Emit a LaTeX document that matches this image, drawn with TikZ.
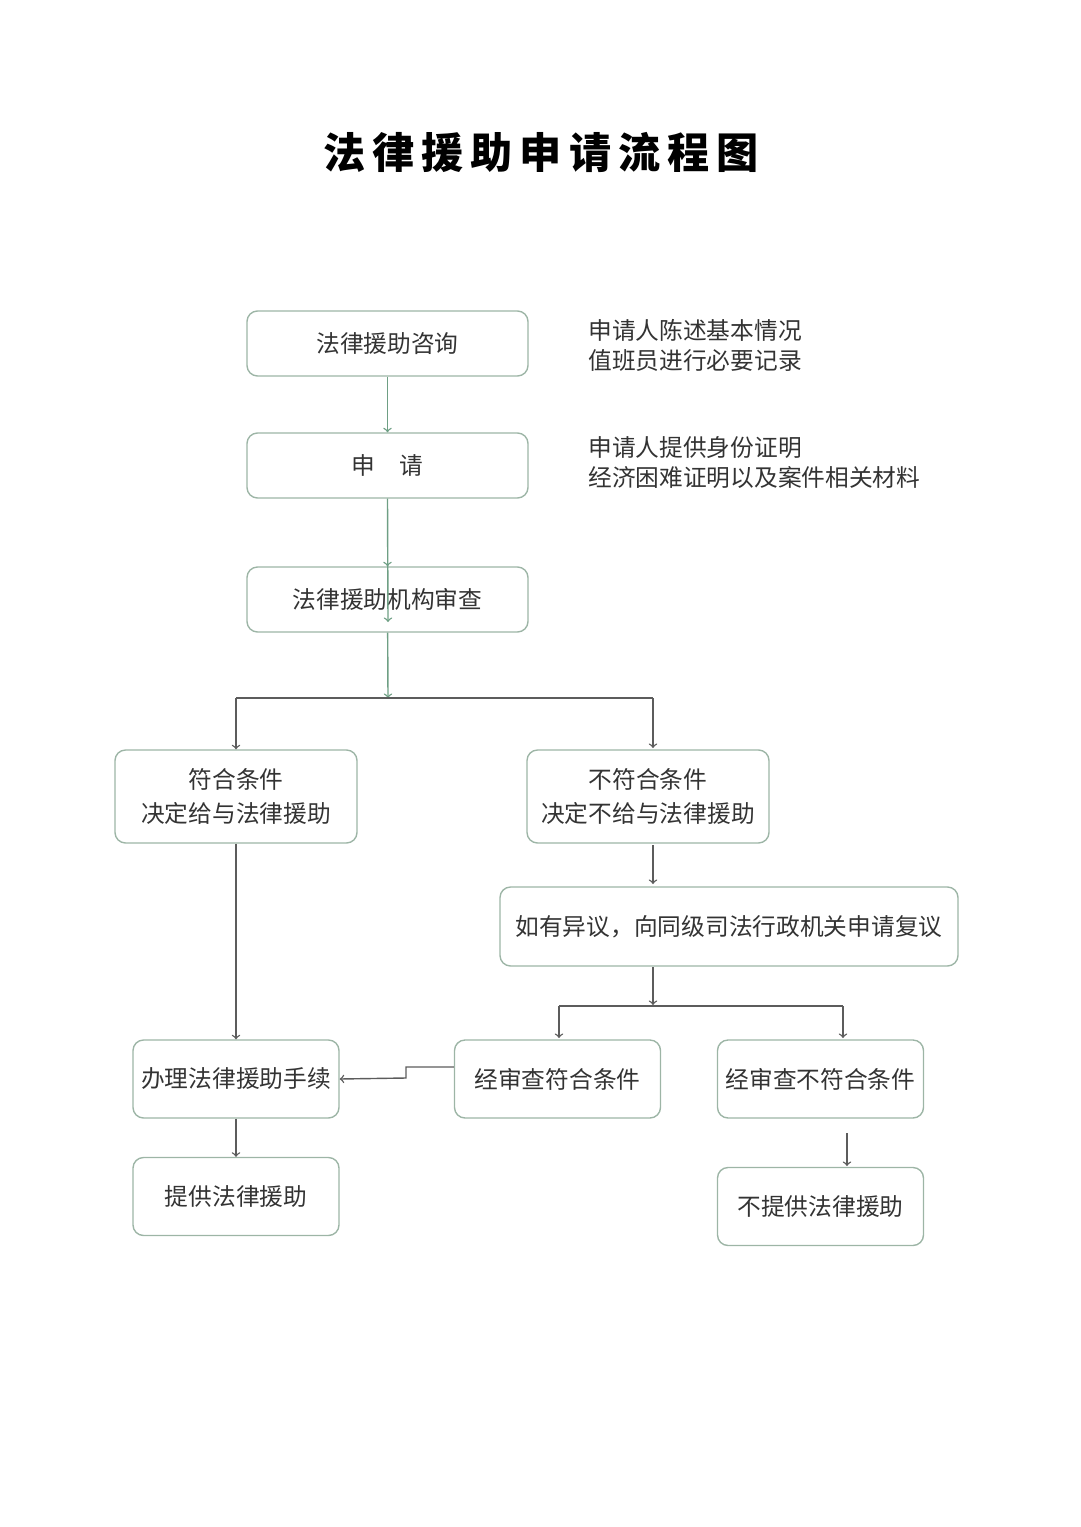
\documentclass[tikz,border=0pt]{standalone}
\usepackage{fontspec}
\setmainfont{Noto Sans CJK SC}
\usepackage{tikz}
\usetikzlibrary{arrows}

\definecolor{boxline}{HTML}{9DB5A6}
\definecolor{flowgreen}{HTML}{6E9F84}
\definecolor{textgray}{HTML}{333333}

\begin{document}
\begin{tikzpicture}[
            x=0.02cm, y=-0.02cm,
            stepbox/.style={draw=boxline, rounded corners=6pt, thick, align=center,
                inner sep=0pt, font=\fontsize{13.5pt}{19pt}\selectfont, text=textgray},
            green flow/.style={thick, ->, >=to, color=flowgreen},
            gray flow/.style={thick, ->, >=to, color=textgray!80},
            gray line/.style={thick, color=textgray!80},
            side note/.style={anchor=north west, align=left, inner sep=0pt,
                font=\fontsize{13.5pt}{17pt}\selectfont, text=textgray}
            ]

            \useasboundingbox (0,0) rectangle (1080,1527);

            % title
            \node (title) at (541,152) {\fontsize{24pt}{28pt}\selectfont\bfseries
                法\,律\,援\,助\,申\,请\,流\,程\,图};

            % boxes
            \node[stepbox, minimum width=281*0.02cm, minimum height=65*0.02cm] (consult) at (387.5,343.5) {法律援助咨询};
            \node[stepbox, minimum width=281*0.02cm, minimum height=65*0.02cm] (apply) at (387.5,465.5) {申\quad 请};
            \node[stepbox, minimum width=281*0.02cm, minimum height=65*0.02cm] (review) at (387.5,599.5) {法律援助机构审查};
            \node[stepbox, minimum width=242*0.02cm, minimum height=93*0.02cm] (grant) at (236,796.5) {符合条件\\决定给与法律援助};
            \node[stepbox, minimum width=242*0.02cm, minimum height=93*0.02cm] (deny) at (648,796.5) {不符合条件\\决定不给与法律援助};
            \node[stepbox, minimum width=458*0.02cm, minimum height=79*0.02cm] (appeal) at (729,926.5) {如有异议，向同级司法行政机关申请复议};
            \node[stepbox, minimum width=206*0.02cm, minimum height=78*0.02cm] (handle) at (236,1079) {办理法律援助手续};
            \node[stepbox, minimum width=206*0.02cm, minimum height=78*0.02cm] (passok) at (557.5,1079) {经审查符合条件};
            \node[stepbox, minimum width=206*0.02cm, minimum height=78*0.02cm] (passno) at (820.5,1079) {经审查不符合条件};
            \node[stepbox, minimum width=206*0.02cm, minimum height=78*0.02cm] (provide) at (236,1196.5) {提供法律援助};
            \node[stepbox, minimum width=206*0.02cm, minimum height=78*0.02cm] (noprovide) at (820.5,1206.5) {不提供法律援助};

            % notes
            \node[side note] (note1) at (588,319) {申请人陈述基本情况\\值班员进行必要记录};
            \node[side note] (note2) at (588,436) {申请人提供身份证明\\经济困难证明以及案件相关材料};

            % green arrows
            \coordinate (inreview) at (388,622);
            \coordinate (split) at (388,698);
            \draw[green flow] (consult) -- (apply);
            \draw[green flow] (apply) -- (review);
            \draw[green flow] (apply.south) -- (inreview);
            \draw[green flow] (review) -- (split);

            % branches
            \draw[gray flow] (236,698) -- (grant);
            \draw[gray flow] (653,698) -- (653,748);
            \draw[gray line] (236,698) -- (653,698);
            \draw[gray flow] (653,845) -- (653,884);
            \draw[gray flow] (653,967) -- (653,1005);
            \draw[gray line] (559,1006) -- (843,1006);
            \draw[gray flow] (559,1006) -- (559,1038);
            \draw[gray flow] (843,1006) -- (843,1038);
            \draw[gray flow] (grant) -- (handle);
            \draw[gray flow] (passok.west |- 0,1067) -- (406,1067) -- (406,1078) -- (handle.east);
            \draw[gray flow] (handle) -- (provide);
            \draw[gray flow] (847,1133) -- (847,1166);

        \end{tikzpicture}
\end{document}
